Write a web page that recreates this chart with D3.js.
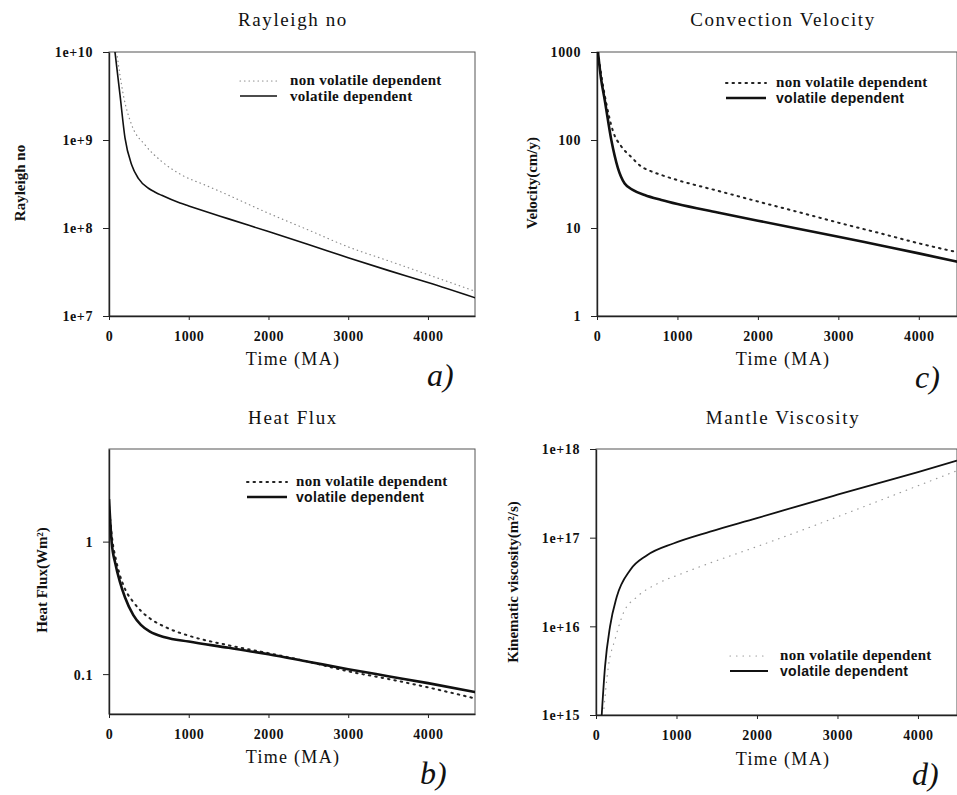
<!DOCTYPE html>
<html>
<head>
<meta charset="utf-8">
<script src="https://cdn.jsdelivr.net/npm/d3@7/dist/d3.min.js"></script>
<style>
  html, body { margin: 0; padding: 0; background: #fff; }
  svg { display: block; font-family: "Liberation Serif", "Times New Roman", serif; }
  text { fill: #111; }
</style>
</head>
<body>
<svg id="chart" width="957" height="795"></svg>
<script>
// ---- Rayleigh number ----
const raTimeVol = [75, 138, 201, 285, 368, 494, 580, 661, 891, 1000, 1500, 2000, 2500, 3000, 3500, 4000, 4600];
const raVol = [1e10, 3.25e9, 1.05e9, 5.2e8, 3.67e8, 2.83e8, 2.55e8, 2.35e8, 1.92e8, 1.78e8, 1.27e8, 9.1e7, 6.5e7, 4.6e7, 3.3e7, 2.4e7, 1.6e7];
const raTimeNon = [96, 180, 285, 452, 661, 912, 1204, 1414, 2000, 2500, 3000, 3500, 4000, 4600];
const raNon = [1e10, 3.25e9, 1.48e9, 8.8e8, 5.7e8, 4.0e8, 3.08e8, 2.55e8, 1.47e8, 9.5e7, 6.1e7, 4.25e7, 2.95e7, 1.9e7];
const raTicks = [1e7, 1e8, 1e9, 1e10];

// ---- Convection velocity (cm/y) ----
const velTimeVol = [12, 50, 96, 178, 260, 344, 450, 592, 800, 1000, 1500, 2000, 2500, 3000, 3500, 4000, 4480];
const velVol = [1000, 500, 285, 100, 48, 32, 27, 23.7, 20.8, 18.7, 15.0, 12.1, 9.8, 7.96, 6.4, 5.15, 4.14];
const velTimeNon = [12, 60, 116, 200, 300, 426, 550, 675, 800, 1000, 1500, 2000, 2500, 3000, 3500, 4000, 4480];
const velNon = [1000, 500, 260, 125, 85, 64, 50, 44, 40, 35, 26.5, 20, 15.2, 11.5, 8.8, 6.7, 5.3];
const velTicks = [1, 10, 100, 1000];

// ---- Heat flux (W/m²) ----
const hfTimeVol = [0, 33, 80, 138, 200, 305, 400, 514, 700, 1000, 1500, 2000, 2500, 3000, 3500, 4000, 4600];
const hfVol = [2.09, 1.0, 0.68, 0.495, 0.38, 0.279, 0.235, 0.209, 0.19, 0.176, 0.158, 0.141, 0.124, 0.109, 0.0965, 0.0855, 0.0729];
const hfTimeNon = [0, 40, 90, 138, 200, 305, 400, 514, 724, 1000, 1500, 2000, 2500, 3000, 3500, 4000, 4600];
const hfNon = [1.86, 1.05, 0.72, 0.556, 0.44, 0.35, 0.30, 0.263, 0.224, 0.195, 0.165, 0.144, 0.124, 0.105, 0.092, 0.0794, 0.0653];
const hfTicks = [0.1, 1];

// ---- Mantle kinematic viscosity (m²/s) ----
const viscTimeVol = [71, 112, 174, 257, 423, 630, 961, 1418, 2000, 2500, 3000, 3500, 4000, 4484];
const viscVol = [1e15, 3.5e15, 9.9e15, 2.14e16, 4.3e16, 6.3e16, 8.6e16, 1.17e17, 1.66e17, 2.26e17, 3.05e17, 4.1e17, 5.5e17, 7.4e17];
const viscTimeNon = [91, 153, 236, 340, 506, 755, 1086, 1397, 2000, 2500, 3000, 3500, 4000, 4484];
const viscNon = [1e15, 3.5e15, 7.1e15, 1.41e16, 2.14e16, 3.0e16, 4.0e16, 5.1e16, 7.94e16, 1.16e17, 1.72e17, 2.57e17, 3.85e17, 5.69e17];
const viscTicks = [1e15, 1e16, 1e17, 1e18];

const timeTicks = [0, 1000, 2000, 3000, 4000];
const legendLabels = ["non volatile dependent", "volatile dependent"];

const svg = d3.select("#chart");
const serif = '"Liberation Serif", "Times New Roman", serif';
const sans = '"Liberation Sans", Arial, sans-serif';

function zip(t, v) { return t.map((d, i) => ({ t: d, v: v[i] })); }

function panel(cfg) {
  const g = svg.append("g");
  const x = d3.scaleLinear().domain(cfg.xDomain).range([cfg.left, cfg.right]);
  const y = d3.scaleLog().domain(cfg.yDomain).range([cfg.bottom, cfg.top]);

  const clipId = "clip-" + cfg.id;
  svg.append("defs").append("clipPath").attr("id", clipId)
    .append("rect").attr("x", cfg.left).attr("y", cfg.top)
    .attr("width", cfg.right - cfg.left).attr("height", cfg.bottom - cfg.top);

  // frame
  g.append("rect")
    .attr("x", cfg.left).attr("y", cfg.top)
    .attr("width", cfg.right - cfg.left).attr("height", cfg.bottom - cfg.top)
    .attr("fill", "none").attr("stroke", "#555").attr("stroke-width", 1);

  // axes
  const xAxis = d3.axisBottom(x).tickValues(timeTicks).tickFormat(d3.format("d"))
    .tickSize(4).tickSizeOuter(0).tickPadding(8);
  const yAxis = d3.axisLeft(y).tickValues(cfg.yTicks).tickFormat(cfg.yFormat)
    .tickSize(6).tickSizeOuter(0).tickPadding(10);

  const gx = g.append("g").attr("transform", `translate(0,${cfg.bottom})`).call(xAxis);
  const gy = g.append("g").attr("transform", `translate(${cfg.left},0)`).call(yAxis);
  [gx, gy].forEach(a => {
    a.attr("font-family", null).attr("font-size", null);
    a.select(".domain").attr("stroke", "#222").attr("stroke-width", 1.4);
    a.selectAll(".tick line").attr("stroke", "#222").attr("stroke-width", 1);
    a.selectAll(".tick text").style("font-family", serif).style("font-size", "14px")
      .style("font-weight", "bold").style("letter-spacing", "0.6px").attr("fill", "#111");
  });
  gx.selectAll(".tick text").attr("dy", "0.9em");
  gy.selectAll(".tick text").attr("dy", "0.35em");

  // curves
  const line = d3.line().x(d => x(d.t)).y(d => y(d.v)).curve(d3.curveMonotoneX);
  const plot = g.append("g").attr("clip-path", `url(#${clipId})`);
  plot.append("path").datum(zip(cfg.tNon, cfg.vNon))
    .attr("d", line).attr("fill", "none")
    .attr("stroke", cfg.dotColor).attr("stroke-width", cfg.dotWidth)
    .attr("stroke-dasharray", cfg.dotDash).attr("stroke-linecap", "round");
  plot.append("path").datum(zip(cfg.tVol, cfg.vVol))
    .attr("d", line).attr("fill", "none")
    .attr("stroke", "#111").attr("stroke-width", cfg.solidWidth);

  // title
  g.append("text").attr("x", cfg.titleX).attr("y", cfg.titleY)
    .attr("text-anchor", "middle")
    .style("font-family", serif).style("font-size", "19px").style("letter-spacing", "1.6px")
    .text(cfg.title);

  // x label
  g.append("text").attr("x", cfg.titleX).attr("y", cfg.xLabelY)
    .attr("text-anchor", "middle")
    .style("font-family", serif).style("font-size", "18px").style("letter-spacing", "1.3px")
    .text("Time (MA)");

  // y label
  g.append("text")
    .attr("transform", `translate(${cfg.yLabelX},${cfg.yLabelY}) rotate(-90)`)
    .attr("text-anchor", "middle")
    .style("font-family", serif).style("font-size", "15px").style("font-weight", "bold")
    .text(cfg.yLabel);

  // panel letter
  g.append("text").attr("x", cfg.letterX).attr("y", cfg.letterY)
    .style("font-family", serif).style("font-size", "32px").style("font-style", "italic")
    .text(cfg.letter);

  // legend
  const L = cfg.legend;
  g.append("line").attr("x1", L.x1).attr("x2", L.x2).attr("y1", L.y).attr("y2", L.y)
    .attr("stroke", cfg.dotColor).attr("stroke-width", cfg.dotWidth)
    .attr("stroke-dasharray", cfg.dotDash).attr("stroke-linecap", "round");
  g.append("line").attr("x1", L.x1).attr("x2", L.x2).attr("y1", L.y + 15).attr("y2", L.y + 15)
    .attr("stroke", "#111").attr("stroke-width", cfg.solidWidth);
  g.append("text").attr("x", L.tx).attr("y", L.y + 4)
    .style("font-family", serif).style("font-size", "15px").style("font-weight", "bold")
    .style("letter-spacing", "0.3px")
    .text(legendLabels[0]);
  g.append("text").attr("x", L.tx).attr("y", L.y + 20)
    .style("font-family", cfg.sansLegend ? sans : serif)
    .style("font-size", cfg.sansLegend ? "14px" : "15px")
    .style("font-weight", "bold").style("letter-spacing", "0.3px")
    .text(legendLabels[1]);
}

const sci = d => "1e+" + Math.round(Math.log10(d));

panel({
  id: "a", left: 109, right: 475, top: 52, bottom: 316,
  xDomain: [0, 4590], yDomain: [1e7, 1e10], yTicks: raTicks, yFormat: sci,
  tVol: raTimeVol, vVol: raVol, tNon: raTimeNon, vNon: raNon,
  solidWidth: 1.6, dotColor: "#8a8a8a", dotWidth: 1.2, dotDash: "0.5,4",
  title: "Rayleigh no", titleX: 293, titleY: 26, xLabelY: 365,
  yLabel: "Rayleigh no", yLabelX: 25, yLabelY: 183,
  letter: "a)", letterX: 427, letterY: 386,
  legend: { x1: 240, x2: 277, y: 81, tx: 290 }, sansLegend: false
});

panel({
  id: "c", left: 597, right: 957, top: 52, bottom: 316,
  xDomain: [0, 4475], yDomain: [1, 1000], yTicks: velTicks, yFormat: d3.format("d"),
  tVol: velTimeVol, vVol: velVol, tNon: velTimeNon, vNon: velNon,
  solidWidth: 2.6, dotColor: "#222", dotWidth: 2, dotDash: "1.5,5",
  title: "Convection Velocity", titleX: 783, titleY: 26, xLabelY: 365,
  yLabel: "Velocity(cm/y)", yLabelX: 537, yLabelY: 183,
  letter: "c)", letterX: 915, letterY: 388,
  legend: { x1: 726, x2: 766, y: 83, tx: 776 }, sansLegend: true
});

panel({
  id: "b", left: 109, right: 475, top: 449, bottom: 714,
  xDomain: [0, 4590], yDomain: [0.05, 5], yTicks: hfTicks, yFormat: d3.format(""),
  tVol: hfTimeVol, vVol: hfVol, tNon: hfTimeNon, vNon: hfNon,
  solidWidth: 2.6, dotColor: "#222", dotWidth: 2, dotDash: "1.5,5",
  title: "Heat Flux", titleX: 293, titleY: 424, xLabelY: 763,
  yLabel: "Heat Flux(Wm²)", yLabelX: 47, yLabelY: 580,
  letter: "b)", letterX: 420, letterY: 784,
  legend: { x1: 247, x2: 287, y: 482, tx: 296 }, sansLegend: true
});

panel({
  id: "d", left: 596, right: 957, top: 449, bottom: 715,
  xDomain: [0, 4485], yDomain: [1e15, 1e18], yTicks: viscTicks, yFormat: sci,
  tVol: viscTimeVol, vVol: viscVol, tNon: viscTimeNon, vNon: viscNon,
  solidWidth: 1.8, dotColor: "#9a9a9a", dotWidth: 1.2, dotDash: "0.5,6",
  title: "Mantle Viscosity", titleX: 783, titleY: 424, xLabelY: 765,
  yLabel: "Kinematic viscosity(m²/s)", yLabelX: 518, yLabelY: 582,
  letter: "d)", letterX: 912, letterY: 785,
  legend: { x1: 730, x2: 768, y: 656, tx: 780 }, sansLegend: true
});
</script>
</body>
</html>
